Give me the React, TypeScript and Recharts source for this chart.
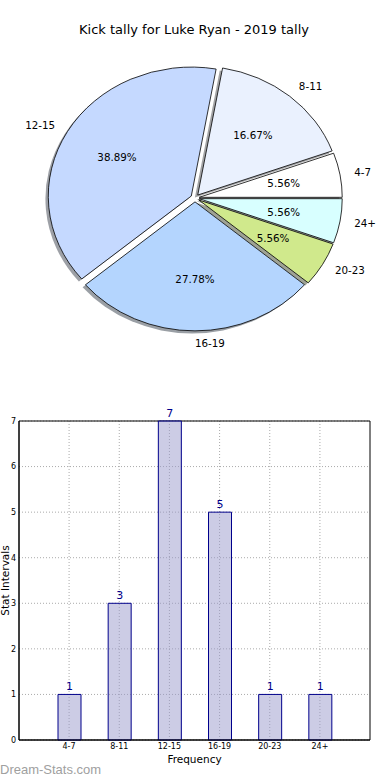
import React from 'react';
import { PieChart, Pie, BarChart, Bar, XAxis, YAxis, CartesianGrid, LabelList, Label } from 'recharts';

// ---------- data ----------
const categories = ['4-7', '8-11', '12-15', '16-19', '20-23', '24+'];
const kickCounts = [1, 3, 7, 5, 1, 1];
const yTicks = [0, 1, 2, 3, 4, 5, 6, 7];
const titleText = 'Kick tally for Luke Ryan - 2019 tally';
const xAxisTitle = 'Frequency';
const yAxisTitle = 'Stat Intervals';
const watermark = 'Dream-Stats.com';

// ---------- style / layout ----------
const FONT = '"DejaVu Sans", sans-serif';
const sliceColors = ['#ffffff', '#eaf1fe', '#c5d9ff', '#b4d5fe', '#d0e98c', '#d8ffff'];
const EXPLODE = 0.03;
const X_STRETCH = 143 / 129;
const SHADOW = 0.02;
const RAD = Math.PI / 180;

const BAR_W = 390;
const BAR_H = 380;
const BAR_MARGIN = { top: 21, right: 20, bottom: 0, left: 0 };
const Y_AXIS_W = 19;
const X_AXIS_H = 40;

const total = kickCounts.reduce((a, b) => a + b, 0);
const pieData = categories.map((name, i) => ({ name, value: kickCounts[i], fill: sliceColors[i] }));
const barData = categories.map((name, i) => ({ name, value: kickCounts[i] }));

function wedgePath(cx: number, cy: number, r: number, start: number, end: number, dx = 0, dy = 0) {
  const rX = r * X_STRETCH;
  const rY = r;
  const mid = (start + end) / 2;
  const ox = cx + EXPLODE * rX * Math.cos(mid * RAD) + dx;
  const oy = cy - EXPLODE * rY * Math.sin(mid * RAD) + dy;
  const x1 = ox + rX * Math.cos(start * RAD);
  const y1 = oy - rY * Math.sin(start * RAD);
  const x2 = ox + rX * Math.cos(end * RAD);
  const y2 = oy - rY * Math.sin(end * RAD);
  const large = Math.abs(end - start) > 180 ? 1 : 0;
  const sweep = end > start ? 0 : 1;
  return `M${ox},${oy} L${x1},${y1} A${rX},${rY} 0 ${large} ${sweep} ${x2},${y2} Z`;
}

function shade(hex: string, k: number) {
  const h = hex.replace('#', '');
  const r = Math.round(parseInt(h.slice(0, 2), 16) * k);
  const g = Math.round(parseInt(h.slice(2, 4), 16) * k);
  const b = Math.round(parseInt(h.slice(4, 6), 16) * k);
  return `rgb(${r},${g},${b})`;
}

const wedgeShape = (props: any) => {
  const { cx, cy, outerRadius, startAngle, endAngle } = props;
  const fill = props.payload?.fill ?? props.fill;
  return (
    <path
      d={wedgePath(cx, cy, outerRadius, startAngle, endAngle)}
      fill={fill}
      stroke="#000"
      strokeWidth={0.8}
      strokeLinejoin="round"
    />
  );
};

const shadowShape = (props: any) => {
  const { cx, cy, outerRadius, startAngle, endAngle } = props;
  const fill = props.payload?.fill ?? props.fill ?? '#ffffff';
  const rX = outerRadius * X_STRETCH;
  return (
    <path
      d={wedgePath(cx, cy, outerRadius, startAngle, endAngle, -SHADOW * rX, SHADOW * outerRadius)}
      fill={shade(fill, 0.3)}
      fillOpacity={0.5}
      stroke="none"
    />
  );
};

const renderPieLabels = (props: any) => {
  const { cx, cy, midAngle, outerRadius } = props;
  const name = props.name ?? props.payload?.name;
  const value = props.value ?? props.payload?.value;
  const rX = outerRadius * X_STRETCH;
  const rY = outerRadius;
  const c = Math.cos(midAngle * RAD);
  const s = Math.sin(midAngle * RAD);
  const lx = cx + (1.1 + EXPLODE) * rX * c;
  const ly = cy - (1.1 + EXPLODE) * rY * s;
  const px = cx + (0.6 + EXPLODE) * rX * c;
  const py = cy - (0.6 + EXPLODE) * rY * s;
  const pct = ((value / total) * 100).toFixed(2) + '%';
  return (
    <g>
      <text x={lx} y={ly} dy="0.35em" textAnchor={c >= -1e-6 ? 'start' : 'end'} fontSize={10.3} fontFamily={FONT} fill="#000">
        {name}
      </text>
      <text x={px} y={py} dy="0.35em" textAnchor="middle" fontSize={10.3} fontFamily={FONT} fill="#000">
        {pct}
      </text>
    </g>
  );
};

const frameX = () => [BAR_MARGIN.left + Y_AXIS_W, BAR_W - BAR_MARGIN.right];
const frameY = () => [BAR_MARGIN.top, BAR_H - BAR_MARGIN.bottom - X_AXIS_H];

export default function App() {
  return (
    <div style={{ position: 'absolute', left: 0, top: 0, width: 390, height: 780, background: '#fff', fontFamily: FONT }}>
      <div style={{ position: 'absolute', left: 0, top: 0 }}>
        <PieChart width={390} height={380} margin={{ top: 0, right: 0, bottom: 0, left: 0 }}>
          <Pie
            data={pieData}
            dataKey="value"
            nameKey="name"
            cx={195}
            cy={198}
            outerRadius={129}
            startAngle={0}
            endAngle={360}
            stroke="none"
            isAnimationActive={false}
            shape={shadowShape}
            inactiveShape={shadowShape}
            activeShape={shadowShape}
            labelLine={false}
          />
          <Pie
            data={pieData}
            dataKey="value"
            nameKey="name"
            cx={195}
            cy={198}
            outerRadius={129}
            startAngle={0}
            endAngle={360}
            stroke="#000"
            isAnimationActive={false}
            shape={wedgeShape}
            inactiveShape={wedgeShape}
            activeShape={wedgeShape}
            label={renderPieLabels}
            labelLine={false}
          />
        </PieChart>
      </div>
      <div style={{ position: 'absolute', left: 0, top: 400 }}>
        <BarChart width={BAR_W} height={BAR_H} data={barData} margin={BAR_MARGIN}>
          <CartesianGrid stroke="#aaaaaa" strokeDasharray="1 2" syncWithTicks />
          <CartesianGrid
            stroke="#000"
            fill="none"
            verticalCoordinatesGenerator={frameX}
            horizontalCoordinatesGenerator={frameY}
          />
          <XAxis
            dataKey="name"
            padding={{ left: 25, right: 25 }}
            height={X_AXIS_H}
            interval={0}
            tickLine={false}
            tickSize={0}
            tickMargin={3}
            axisLine={{ stroke: '#000' }}
            tick={{ fontSize: 8, fill: '#000', fontFamily: FONT }}
          >
            <Label value={xAxisTitle} position="insideBottom" offset={17} fontSize={10.5} fill="#000" fontFamily={FONT} />
          </XAxis>
          <YAxis
            domain={[0, 7]}
            ticks={yTicks}
            width={Y_AXIS_W}
            tickLine={false}
            tickSize={0}
            tickMargin={3}
            axisLine={{ stroke: '#000' }}
            tick={{ fontSize: 8, fill: '#000', fontFamily: FONT }}
          >
            <Label
              value={yAxisTitle}
              angle={-90}
              position="insideLeft"
              offset={5}
              style={{ textAnchor: 'middle' }}
              fontSize={10.5}
              fill="#000"
              fontFamily={FONT}
            />
          </YAxis>
          <Bar dataKey="value" barSize={23} fill="#9999cc" fillOpacity={0.5} stroke="#00008b" strokeWidth={1} isAnimationActive={false}>
            <LabelList dataKey="value" position="top" offset={4} fill="#00008b" fontSize={11} fontFamily={FONT} />
          </Bar>
        </BarChart>
      </div>
      <svg width={390} height={780} style={{ position: 'absolute', left: 0, top: 0, pointerEvents: 'none' }}>
        <text x={194} y={34} textAnchor="middle" fontSize={13} fontFamily={FONT} fill="#000">
          {titleText}
        </text>
        <text x={0} y={774} fontSize={13} fontFamily='"Liberation Sans", Arial, sans-serif' fill="#a0a0a0">
          {watermark}
        </text>
      </svg>
    </div>
  );
}
